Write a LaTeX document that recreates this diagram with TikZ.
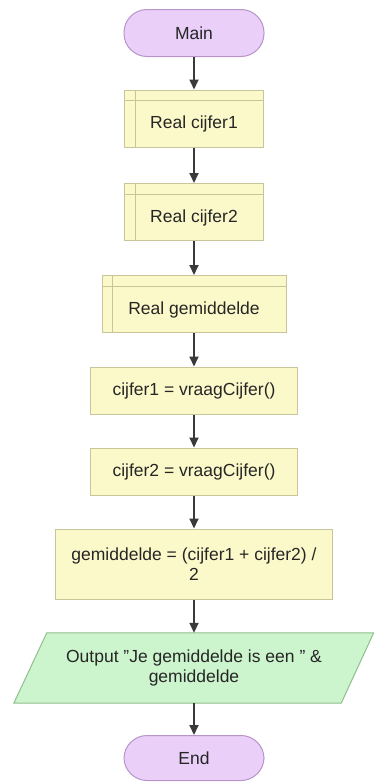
\documentclass[tikz,border=0pt]{standalone}
\usepackage{fontspec}
\setmainfont{Liberation Sans}
\usetikzlibrary{arrows.meta}
\definecolor{termfill}{HTML}{EACFF9}
\definecolor{termdraw}{HTML}{B794C9}
\definecolor{boxfill}{HTML}{FBF9C9}
\definecolor{boxdraw}{HTML}{C8C59A}
\definecolor{outfill}{HTML}{CDF5CD}
\definecolor{outdraw}{HTML}{8FBD8F}
\definecolor{txtcol}{HTML}{262626}
\definecolor{arrcol}{HTML}{3A3A3A}
\tikzset{
  every node/.style={font=\fontsize{17.5}{20}\selectfont, text=txtcol, inner sep=0pt},
  term/.style={draw=termdraw, fill=termfill, line width=1pt, rounded corners=23pt, minimum width=140pt, minimum height=47pt},
  declbox/.style={draw=boxdraw, fill=boxfill, line width=1pt, minimum height=57pt},
  procbox/.style={draw=boxdraw, fill=boxfill, line width=1pt, minimum width=207pt, minimum height=47pt, align=center},
  declline/.style={draw=boxdraw, line width=1pt},
  outbox/.style={minimum width=327pt, minimum height=70pt, align=center},
  outshape/.style={draw=outdraw, fill=outfill, line width=1pt},
  arr/.style={draw=arrcol, line width=1.8pt, -{Triangle[length=10pt,width=9pt]}}
}
\begin{document}
\begin{tikzpicture}[x=1pt,y=-1pt]
\useasboundingbox (0,0) rectangle (374,782);
% terminals
\node[term] (main) at (194,33) {Main};
% declarations
\node[declbox, minimum width=139pt] (d1) at (194,118.5) {};
\draw[declline] ([xshift=11pt]d1.north west) -- ([xshift=11pt]d1.south west);
\draw[declline] ([yshift=-11pt]d1.north west) -- ([yshift=-11pt]d1.north east);
\node (d1t) at ([yshift=-5.5pt]d1.center) {Real cijfer1};
\node[declbox, minimum width=139pt] (d2) at (194,212) {};
\draw[declline] ([xshift=11pt]d2.north west) -- ([xshift=11pt]d2.south west);
\draw[declline] ([yshift=-11pt]d2.north west) -- ([yshift=-11pt]d2.north east);
\node (d2t) at ([yshift=-5.5pt]d2.center) {Real cijfer2};
\node[declbox, minimum width=184pt] (d3) at (194,304) {};
\draw[declline] ([xshift=11pt]d3.north west) -- ([xshift=11pt]d3.south west);
\draw[declline] ([yshift=-11pt]d3.north west) -- ([yshift=-11pt]d3.north east);
\node (d3t) at ([yshift=-5.5pt]d3.center) {Real gemiddelde};
% assignments
\node[procbox] (a1) at (194,390.5) {cijfer1 = vraagCijfer()};
\node[procbox] (a2) at (194,471.5) {cijfer2 = vraagCijfer()};
\node[procbox, minimum width=277pt, minimum height=70pt] (a3) at (194,564) {gemiddelde = (cijfer1 + cijfer2) /\\2};
% output
\node[outbox] (outn) at (194,668) {};
\path[outshape] ([xshift=16.5pt]outn.north west) -- ([xshift=16pt]outn.north east) -- ([xshift=-16.5pt]outn.south east) -- ([xshift=-16.5pt]outn.south west) -- cycle;
\node[align=center] (outt) at (outn.center) {Output \symbol{34}Je gemiddelde is een \symbol{34} \&\\gemiddelde};
% end
\node[term, minimum height=45pt] (endn) at (194,758) {End};
% connectors
\draw[arr] (main) -- (d1);
\draw[arr] (d1) -- (d2);
\draw[arr] (d2) -- (d3);
\draw[arr] (d3) -- (a1);
\draw[arr] (a1) -- (a2);
\draw[arr] (a2) -- (a3);
\draw[arr] (a3) -- (outn);
\draw[arr] (outn) -- (endn);
\end{tikzpicture}
\end{document}
